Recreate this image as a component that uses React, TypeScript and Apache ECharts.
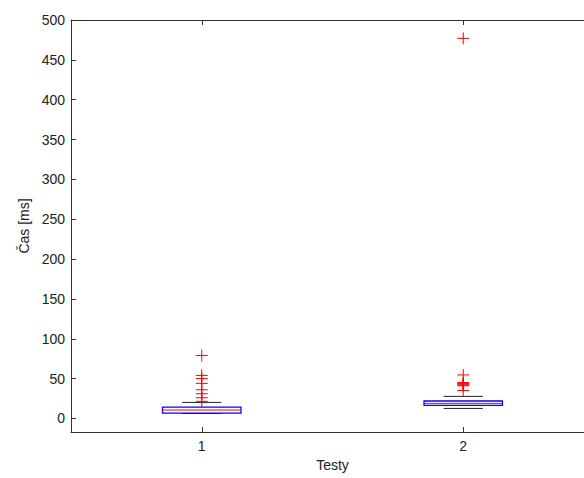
import React, { useEffect, useRef } from "react";
import * as echarts from "echarts";

const groups = [1, 2];
const lowerWhisker = [6.3, 12.6];
const q1 = [6.8, 16.4];
const median = [10.6, 18.9];
const q3 = [14.3, 21.9];
const upperWhisker = [20.1, 27.7];
const outliers1 = [21.5, 26, 31, 36, 44, 50, 54, 79];
const outliers2 = [35, 41, 42, 43, 44, 45, 54.6, 477];
const yTicks = [0, 50, 100, 150, 200, 250, 300, 350, 400, 450, 500];

export default function App() {
  const ref = useRef<HTMLDivElement>(null);
  useEffect(() => {
    document.body.style.margin = "0";
    const chart = echarts.init(ref.current!, null, { renderer: "svg" });
    const boxData = groups.map((g, i) => [g, lowerWhisker[i], q1[i], median[i], q3[i], upperWhisker[i]]);
    const outlierData: number[][] = [];
    outliers1.forEach((v) => outlierData.push([1, v]));
    outliers2.forEach((v) => outlierData.push([2, v]));
    const axisColor = "#333";
    const font = { fontFamily: "Liberation Sans", fontSize: 14, color: "#222" };
    chart.setOption({
      animation: false,
      textStyle: font,
      grid: { left: 71, top: 20, width: 523, height: 412, outerBoundsMode: "none", containLabel: false },
      xAxis: [
        {
          type: "value",
          min: 0.5,
          max: 2.5,
          name: "Testy",
          nameLocation: "middle",
          nameGap: 25,
          nameTextStyle: font,
          axisLine: { onZero: false, lineStyle: { color: axisColor } },
          axisTick: { inside: true, length: 5, customValues: groups, lineStyle: { color: axisColor } },
          axisLabel: { customValues: groups, margin: 7, ...font },
          splitLine: { show: false },
        },
        {
          type: "value",
          position: "top",
          min: 0.5,
          max: 2.5,
          axisLine: { onZero: false, lineStyle: { color: axisColor } },
          axisTick: { inside: true, length: 5, customValues: groups, lineStyle: { color: axisColor } },
          axisLabel: { show: false },
          splitLine: { show: false },
        },
      ],
      yAxis: {
        type: "value",
        min: -17,
        max: 500,
        name: "Čas [ms]",
        nameLocation: "middle",
        nameGap: 36,
        nameTextStyle: font,
        axisLine: { onZero: false, lineStyle: { color: axisColor } },
        axisTick: { inside: true, length: 5, customValues: yTicks, lineStyle: { color: axisColor } },
        axisLabel: { customValues: yTicks, margin: 6, ...font },
        splitLine: { show: false },
      },
      series: [
        {
          type: "custom",
          data: boxData,
          renderItem: (params: any, api: any) => {
            const x = api.value(0);
            const lw = api.value(1);
            const b1 = api.value(2);
            const med = api.value(3);
            const b3 = api.value(4);
            const uw = api.value(5);
            const left = api.coord([x - 0.15, 0])[0];
            const right = api.coord([x + 0.15, 0])[0];
            const cl = api.coord([x - 0.075, 0])[0];
            const cr = api.coord([x + 0.075, 0])[0];
            const yl = api.coord([x, lw])[1];
            const yu = api.coord([x, uw])[1];
            const y1 = api.coord([x, b1])[1];
            const y3 = api.coord([x, b3])[1];
            const ym = api.coord([x, med])[1];
            return {
              type: "group",
              children: [
                { type: "line", shape: { x1: cl, y1: yu, x2: cr, y2: yu }, style: { stroke: "#222", lineWidth: 1 } },
                { type: "line", shape: { x1: cl, y1: yl, x2: cr, y2: yl }, style: { stroke: "#222", lineWidth: 1 } },
                { type: "rect", shape: { x: left, y: y3, width: right - left, height: y1 - y3 }, style: { fill: "#fff", stroke: "#0000ff", lineWidth: 1.3 } },
                { type: "line", shape: { x1: left, y1: ym, x2: right, y2: ym }, style: { stroke: "#ff0000", lineWidth: 1 } },
              ],
            };
          },
        },
        {
          type: "custom",
          data: outlierData,
          renderItem: (params: any, api: any) => {
            const p = api.coord([api.value(0), api.value(1)]);
            return {
              type: "group",
              children: [
                { type: "line", shape: { x1: p[0] - 6, y1: p[1], x2: p[0] + 6, y2: p[1] }, style: { stroke: "#ff0000", lineWidth: 1 } },
                { type: "line", shape: { x1: p[0], y1: p[1] - 6, x2: p[0], y2: p[1] + 6 }, style: { stroke: "#ff0000", lineWidth: 1 } },
              ],
            };
          },
        },
      ],
    });
    return () => chart.dispose();
  }, []);
  return <div ref={ref} style={{ width: 584, height: 478 }} />;
}
